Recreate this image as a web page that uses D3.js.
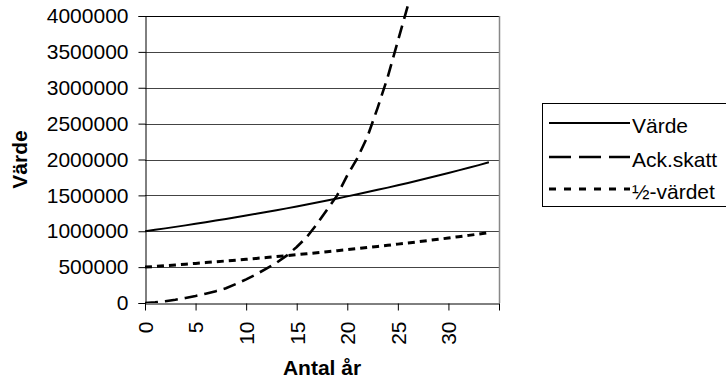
<!DOCTYPE html>
<html>
<head>
<meta charset="utf-8">
<script src="https://cdn.jsdelivr.net/npm/d3@7"></script>
<style>
  html, body { margin: 0; padding: 0; background: #fff; }
  svg { display: block; font-family: "Liberation Sans", Arial, sans-serif; }
</style>
</head>
<body>
<svg id="chart" width="726" height="383"></svg>
<script>
const years = [0,1,2,3,4,5,6,7,8,9,10,11,12,13,14,15,16,17,18,19,20,21,22,23,24,25,26,27,28,29,30,31,32,33,34];
const varde = [1000000,1020000,1040000,1061000,1082000,1104000,1126000,1149000,1172000,1195000,1219000,1243000,1268000,1294000,1319000,1346000,1373000,1400000,1428000,1457000,1486000,1516000,1546000,1577000,1608000,1641000,1673000,1707000,1741000,1776000,1811000,1848000,1885000,1922000,1961000];
const halvVarde = [500000,510000,520000,530500,541000,552000,563000,574500,586000,597500,609500,621500,634000,647000,659500,673000,686500,700000,714000,728500,743000,758000,773000,788500,804000,820500,836500,853500,870500,888000,905500,924000,942500,961000,980500];
const ackSkatt = [0,10000,25000,45000,70000,98000,130000,165000,205000,265000,330000,400000,480000,560000,660000,780000,920000,1100000,1300000,1500000,1780000,2020000,2320000,2720000,3150000,3650000,4150000];
const yTicks = [0,500000,1000000,1500000,2000000,2500000,3000000,3500000,4000000];
const xTickVals = [0,5,10,15,20,25,30,35];
const xLabels = [0,5,10,15,20,25,30];
const seriesNames = ["Värde","Ack.skatt","½-värdet"];

const svg = d3.select("#chart");
const L = 145, R = 499, T = 16, B = 303;
const x = d3.scaleLinear().domain([0,35]).range([L,R]);
const y = d3.scaleLinear().domain([0,4000000]).range([B,T]);
const FS = 21;

// gridlines
svg.append("g").selectAll("line").data(yTicks.filter(d=>d>0)).join("line")
  .attr("x1",L).attr("x2",R)
  .attr("y1",d=>Math.round(y(d))+0.5).attr("y2",d=>Math.round(y(d))+0.5)
  .attr("stroke",(d)=> d===4000000 ? "#000" : "#444").attr("stroke-width",1);

// right border
svg.append("line").attr("x1",R+0.5).attr("x2",R+0.5).attr("y1",T).attr("y2",B)
  .attr("stroke","#888").attr("stroke-width",1.5);

// y axis
const yAxis = d3.axisLeft(y).tickValues(yTicks).tickSize(7).tickPadding(10).tickFormat(d3.format("d"));
const gy = svg.append("g").attr("transform",`translate(${L+0.5},0)`).call(yAxis);
gy.select(".domain").attr("stroke","#000");
gy.selectAll(".tick line").attr("stroke","#000");
gy.selectAll("text").attr("font-size",FS).attr("fill","#000")
  .attr("font-family","'Liberation Sans', Arial, sans-serif");

// x axis
const xAxis = d3.axisBottom(x).tickValues(xTickVals).tickSize(7).tickSizeOuter(0)
  .tickFormat(d => xLabels.includes(d) ? d : "");
const gx = svg.append("g").attr("transform",`translate(0,${B+0.5})`).call(xAxis);
gx.select(".domain").attr("stroke","#000");
gx.selectAll(".tick line").attr("stroke","#000");
gx.selectAll("text").attr("font-size",FS).attr("fill","#000")
  .attr("font-family","'Liberation Sans', Arial, sans-serif")
  .attr("text-anchor","end")
  .attr("transform","rotate(-90)")
  .attr("x",-18).attr("y",0).attr("dy","0.35em");

// clip
svg.append("defs").append("clipPath").attr("id","clip")
  .append("rect").attr("x",L).attr("y",6).attr("width",R-L).attr("height",B-6);

const line = d3.line().x((d,i)=>x(years[i])).y(d=>y(d));
const gs = svg.append("g").attr("clip-path","url(#clip)");
gs.append("path").datum(halvVarde).attr("d",line).attr("fill","none")
  .attr("stroke","#000").attr("stroke-width",3).attr("stroke-dasharray","7,5");
gs.append("path").datum(ackSkatt).attr("d",line).attr("fill","none")
  .attr("stroke","#000").attr("stroke-width",2.6).attr("stroke-dasharray","13,7");
gs.append("path").datum(varde).attr("d",line).attr("fill","none")
  .attr("stroke","#000").attr("stroke-width",2);

// axis titles
svg.append("text").attr("transform",`translate(27,${(T+B)/2}) rotate(-90)`)
  .attr("text-anchor","middle").attr("font-size",FS).attr("font-weight","bold").text("Värde");
svg.append("text").attr("x",(L+R)/2).attr("y",375)
  .attr("text-anchor","middle").attr("font-size",FS).attr("font-weight","bold").text("Antal år");

// legend
const lg = svg.append("g");
lg.append("rect").attr("x",542.5).attr("y",103.5).attr("width",200).attr("height",103)
  .attr("fill","#fff").attr("stroke","#000").attr("stroke-width",1);
const rowsY = [123,157,189];
const styles = [{w:2,dash:null},{w:2.6,dash:"22,8"},{w:3,dash:"7,8"}];
seriesNames.forEach((n,i)=>{
  const l = lg.append("line").attr("x1",549).attr("x2",630).attr("y1",rowsY[i]).attr("y2",rowsY[i])
    .attr("stroke","#000").attr("stroke-width",styles[i].w);
  if (styles[i].dash) l.attr("stroke-dasharray",styles[i].dash);
  lg.append("text").attr("x",632).attr("y",rowsY[i]+3).attr("dy","0.35em")
    .attr("font-size",FS).text(n);
});
</script>
</body>
</html>
